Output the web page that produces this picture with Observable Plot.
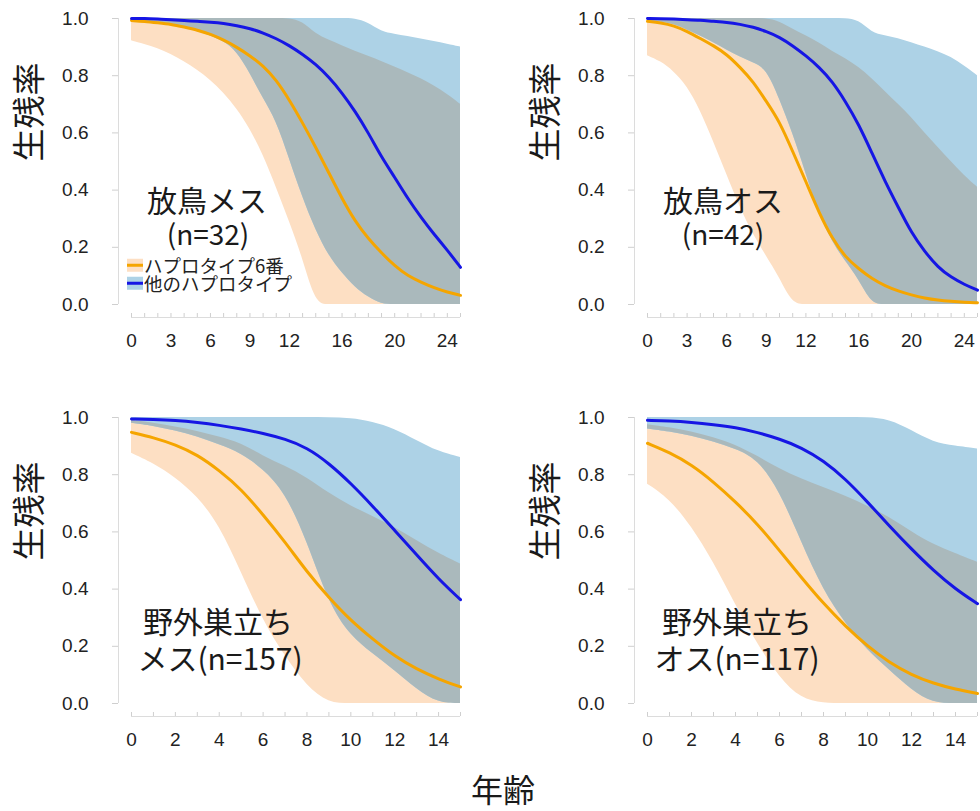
<!DOCTYPE html>
<html>
<head>
<meta charset="utf-8">
<script src="https://cdn.jsdelivr.net/npm/d3@7"></script>
<script src="https://cdn.jsdelivr.net/npm/@observablehq/plot@0.6"></script>
<style>
  html, body { margin: 0; padding: 0; background: #fff; }
  #root { position: relative; width: 980px; height: 811px; overflow: hidden; }
  .panel { position: absolute; }
  .lbl { position: absolute; transform: translate(-50%, -50%); white-space: nowrap; color: #1a1a1a;
         font-family: "Noto Sans CJK JP", "Noto Sans", sans-serif; line-height: 1; }
  .leg { position: absolute; left: 127px; display: flex; align-items: center; font-family: "Noto Sans CJK JP", sans-serif;
         font-size: 18.5px; color: #222; line-height: 1; transform: translateY(-50%); }
  .sw { position: relative; width: 16px; height: 13px; margin-right: 1px; }
  .sw i { position: absolute; left: 0; right: 0; top: 5px; height: 3px; }
</style>
</head>
<body>
<div id="root"></div>
<script>
// ---------- data ----------
const yTicks = [0, 0.2, 0.4, 0.6, 0.8, 1.0];
const yTitle = "生残率";
const xTitle = "年齢";

// release (放鳥) panels: age 0-25
const agesRelease = [0,1,2,3,4,5,6,7,8,9,10,11,12,13,14,15,16,17,18,19,20,21,22,23,24,25];
const releaseMinorTicks = [0,1,2,3,4,5,6,7,8,9,10,11,12,13,14,15,16,17,18,19,20,21,22,23,24,25];
const releaseTickLabels = [0,3,6,9,12,16,20,24];

// wild fledged (野外巣立ち) panels: age 0-15
const agesWild = [0,1,2,3,4,5,6,7,8,9,10,11,12,13,14,15];
const wildMinorTicks = [0,1,2,3,4,5,6,7,8,9,10,11,12,13,14,15];
const wildTickLabels = [0,2,4,6,8,10,12,14];

// 放鳥メス (n=32)
const relFem_h6      = [0.993,0.99,0.985,0.98,0.97,0.96,0.945,0.925,0.9,0.87,0.835,0.785,0.715,0.635,0.55,0.46,0.37,0.29,0.23,0.18,0.135,0.10,0.078,0.058,0.043,0.032];
const relFem_h6Lo    = [0.922,0.91,0.895,0.875,0.85,0.82,0.785,0.74,0.685,0.615,0.525,0.41,0.29,0.165,0,0,0,0,0,0,0,0,0,0,0,0];
const relFem_h6Hi    = [0.998,1,1,1,1,1,1,1,1,1,1,1,1,0.99,0.945,0.925,0.905,0.885,0.868,0.85,0.83,0.81,0.79,0.765,0.735,0.70];
const relFem_oth     = [1.0,1.0,0.998,0.996,0.993,0.99,0.987,0.983,0.975,0.965,0.95,0.93,0.905,0.875,0.84,0.795,0.74,0.675,0.6,0.515,0.445,0.37,0.305,0.245,0.19,0.13];
const relFem_othLo   = [0.99,0.99,0.985,0.978,0.968,0.955,0.94,0.92,0.885,0.81,0.72,0.645,0.51,0.375,0.26,0.17,0.11,0.06,0.025,0,0,0,0,0,0,0];
const relFem_othHi   = [1,1,1,1,1,1,1,1,1,1,1,1,1,1,1,1,1,1,0.985,0.953,0.945,0.937,0.928,0.92,0.91,0.90];

// 放鳥オス (n=42)
const relMal_h6      = [0.99,0.985,0.975,0.955,0.93,0.905,0.875,0.83,0.78,0.71,0.64,0.535,0.43,0.32,0.23,0.165,0.125,0.09,0.065,0.047,0.033,0.022,0.015,0.011,0.008,0.006];
const relMal_h6Lo    = [0.87,0.85,0.815,0.765,0.68,0.57,0.455,0.34,0.245,0.17,0.095,0,0,0,0,0,0,0,0,0,0,0,0,0,0,0];
const relMal_h6Hi    = [0.995,1,1,1,1,1,1,1,1,1,0.99,0.962,0.94,0.915,0.885,0.86,0.83,0.79,0.745,0.70,0.655,0.60,0.55,0.50,0.45,0.41];
const relMal_oth     = [1.0,0.999,0.998,0.996,0.994,0.99,0.987,0.98,0.97,0.955,0.935,0.905,0.87,0.83,0.78,0.71,0.63,0.53,0.43,0.34,0.25,0.185,0.13,0.095,0.07,0.05];
const relMal_othLo   = [0.99,0.988,0.98,0.96,0.94,0.915,0.89,0.865,0.845,0.825,0.72,0.6,0.46,0.315,0.22,0.15,0.09,0,0,0,0,0,0,0,0,0];
const relMal_othHi   = [1,1,1,1,1,1,1,1,1,1,1,1,1,1,1,1,0.995,0.95,0.94,0.93,0.915,0.90,0.885,0.865,0.835,0.80];

// 野外巣立ち メス (n=157)
const wildFem_h6     = [0.948,0.93,0.905,0.87,0.815,0.75,0.66,0.565,0.46,0.37,0.29,0.225,0.165,0.12,0.085,0.058];
const wildFem_h6Lo   = [0.875,0.84,0.79,0.725,0.625,0.46,0.29,0.165,0.06,0,0,0,0,0,0,0];
const wildFem_h6Hi   = [0.99,0.98,0.967,0.952,0.932,0.91,0.865,0.83,0.79,0.735,0.69,0.655,0.615,0.57,0.525,0.488];
const wildFem_oth    = [0.995,0.993,0.99,0.983,0.973,0.96,0.945,0.925,0.895,0.84,0.77,0.69,0.605,0.52,0.435,0.363];
const wildFem_othLo  = [0.98,0.97,0.953,0.933,0.905,0.875,0.82,0.74,0.57,0.35,0.235,0.175,0.115,0.05,0,0];
const wildFem_othHi  = [1,1,1,1,1,1,1,1,1,1,0.997,0.985,0.96,0.92,0.88,0.86];

// 野外巣立ち オス (n=117)
const wildMal_h6     = [0.91,0.878,0.835,0.775,0.705,0.628,0.535,0.44,0.349,0.27,0.2,0.143,0.1,0.07,0.05,0.035];
const wildMal_h6Lo   = [0.767,0.715,0.62,0.495,0.345,0.209,0.09,0.015,0,0,0,0,0,0,0,0];
const wildMal_h6Hi   = [0.975,0.965,0.95,0.93,0.905,0.865,0.82,0.785,0.756,0.725,0.69,0.652,0.60,0.555,0.525,0.494];
const wildMal_oth    = [0.99,0.988,0.983,0.975,0.965,0.948,0.925,0.895,0.849,0.785,0.705,0.62,0.54,0.465,0.40,0.349];
const wildMal_othLo  = [0.96,0.95,0.935,0.915,0.89,0.855,0.745,0.565,0.395,0.28,0.185,0.118,0.047,0,0,0];
const wildMal_othHi  = [1,1,1,1,1,1,1,1,1,1,1,0.993,0.955,0.912,0.9,0.89];

const legendLabels = ["ハプロタイプ6番", "他のハプロタイプ"];

// ---------- colours ----------
const ORANGE = "#F5A500", BLUE = "#1616E4";
const PEACH = "#FDDFC3", LIGHTBLUE = "#ADD2E6", OVERLAP = "#AAB9BC";
const CURVE = "basis";

// ---------- panels ----------
const panels = [
  {left: 0,   top: 0,   width: 490, mr: 30, ages: agesRelease, xDomain: [0, 25], minor: releaseMinorTicks, labels: releaseTickLabels,
   h6: relFem_h6, h6Lo: relFem_h6Lo, h6Hi: relFem_h6Hi, oth: relFem_oth, othLo: relFem_othLo, othHi: relFem_othHi},
  {left: 516, top: 0,   width: 464, mr: 3,  ages: agesRelease, xDomain: [0, 25], minor: releaseMinorTicks, labels: releaseTickLabels,
   h6: relMal_h6, h6Lo: relMal_h6Lo, h6Hi: relMal_h6Hi, oth: relMal_oth, othLo: relMal_othLo, othHi: relMal_othHi},
  {left: 0,   top: 399, width: 490, mr: 30, ages: agesWild, xDomain: [0, 15], minor: wildMinorTicks, labels: wildTickLabels,
   h6: wildFem_h6, h6Lo: wildFem_h6Lo, h6Hi: wildFem_h6Hi, oth: wildFem_oth, othLo: wildFem_othLo, othHi: wildFem_othHi},
  {left: 516, top: 399, width: 464, mr: 3,  ages: agesWild, xDomain: [0, 15], minor: wildMinorTicks, labels: wildTickLabels,
   h6: wildMal_h6, h6Lo: wildMal_h6Lo, h6Hi: wildMal_h6Hi, oth: wildMal_oth, othLo: wildMal_othLo, othHi: wildMal_othHi}
];

const root = document.getElementById("root");

for (const p of panels) {
  const rows = p.ages.map((a, i) => ({
    age: a, h6: p.h6[i], h6Lo: p.h6Lo[i], h6Hi: p.h6Hi[i], oth: p.oth[i], othLo: p.othLo[i], othHi: p.othHi[i]
  }));
  const overlap = rows.map(r => {
    const lo = Math.max(r.h6Lo, r.othLo), hi = Math.min(r.h6Hi, r.othHi);
    return {age: r.age, lo, hi: Math.max(lo, hi)};
  });
  const chart = Plot.plot({
    width: p.width, height: 380,
    marginLeft: 131, marginRight: p.mr, marginTop: 18, marginBottom: 76,
    x: {domain: p.xDomain},
    y: {domain: [0, 1]},
    style: {fontFamily: "'Liberation Sans', Arial, Helvetica, sans-serif", color: "#222", background: "transparent", overflow: "visible"},
    marks: [
      Plot.areaY(rows, {x: "age", y1: "h6Lo", y2: "h6Hi", fill: PEACH, curve: CURVE}),
      Plot.areaY(rows, {x: "age", y1: "othLo", y2: "othHi", fill: LIGHTBLUE, curve: CURVE}),
      Plot.areaY(overlap, {x: "age", y1: "lo", y2: "hi", fill: OVERLAP, curve: CURVE}),
      Plot.lineY(rows, {x: "age", y: "h6", stroke: ORANGE, strokeWidth: 3, curve: CURVE}),
      Plot.lineY(rows, {x: "age", y: "oth", stroke: BLUE, strokeWidth: 3, curve: CURVE}),
      Plot.ruleX([p.xDomain[0]], {dx: -13, stroke: "#dcdcdc"}),
      Plot.ruleY([0], {dy: 13, stroke: "#dcdcdc"}),
      Plot.axisY(yTicks, {anchor: "left", dx: -13, tickSize: 6, tickPadding: 24, tickFormat: d3.format(".1f"),
        stroke: "#cfcfcf", fill: "#222", fontSize: 19, label: null}),
      Plot.axisX(p.minor, {anchor: "bottom", dy: 13, tickSize: -4, tickFormat: () => "", stroke: "#cfcfcf", label: null}),
      Plot.axisX(p.labels, {anchor: "bottom", dy: 13, tickSize: 0, tickPadding: 16, fontSize: 19, fill: "#222", label: null}),
      Plot.text([yTitle], {text: d => d, frameAnchor: "left", rotate: -90, dx: -101, fontSize: 33,
        fontFamily: "'Noto Sans CJK JP', sans-serif", fill: "#1a1a1a"})
    ]
  });
  chart.classList.add("panel");
  chart.style.left = p.left + "px";
  chart.style.top = p.top + "px";
  root.appendChild(chart);
}

// ---------- annotations ----------
const notes = [
  {t: "放鳥メス", x: 207, y: 199, s: 30},
  {t: "(n=32)", x: 208, y: 233, s: 28},
  {t: "放鳥オス", x: 723, y: 199, s: 30},
  {t: "(n=42)", x: 723, y: 233, s: 28},
  {t: "野外巣立ち", x: 218, y: 620, s: 30},
  {t: "メス(n=157)", x: 220, y: 657, s: 30},
  {t: "野外巣立ち", x: 737, y: 620, s: 30},
  {t: "オス(n=117)", x: 737, y: 657, s: 30},
  {t: xTitle, x: 503, y: 788, s: 32}
];
for (const n of notes) {
  const d = document.createElement("div");
  d.className = "lbl";
  d.textContent = n.t;
  d.style.left = n.x + "px";
  d.style.top = n.y + "px";
  d.style.fontSize = n.s + "px";
  root.appendChild(d);
}

// ---------- legend ----------
const legendItems = [
  {label: legendLabels[0], fill: PEACH, line: ORANGE, y: 265},
  {label: legendLabels[1], fill: LIGHTBLUE, line: BLUE, y: 283}
];
for (const it of legendItems) {
  const row = document.createElement("div");
  row.className = "leg";
  row.style.top = it.y + "px";
  const sw = document.createElement("div");
  sw.className = "sw";
  sw.style.background = it.fill;
  const ln = document.createElement("i");
  ln.style.background = it.line;
  sw.appendChild(ln);
  const tx = document.createElement("span");
  tx.textContent = it.label;
  row.appendChild(sw);
  row.appendChild(tx);
  root.appendChild(row);
}
</script>
</body>
</html>
